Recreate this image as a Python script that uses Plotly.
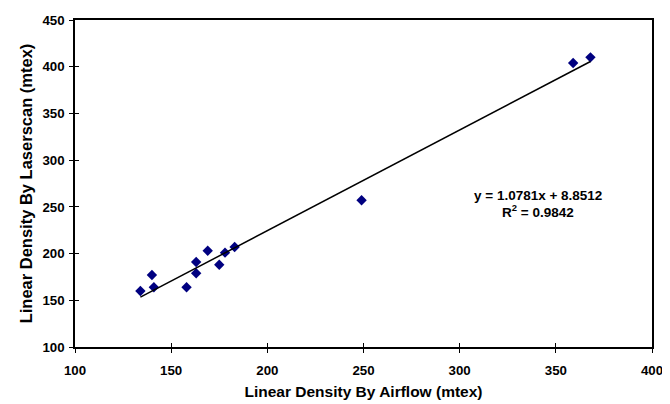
import plotly.graph_objects as go

airflow = [134, 140, 141, 158, 163, 163, 169, 175, 178, 183, 249, 359, 368]
laserscan = [160, 177, 164, 164, 191, 179, 203, 188, 201, 207, 257, 404, 410]
slope = 1.0781
intercept = 8.8512
r2 = 0.9842
x_ticks = [100, 150, 200, 250, 300, 350, 400]
y_ticks = [100, 150, 200, 250, 300, 350, 400, 450]

FONT = "Liberation Sans, Arial, sans-serif"

trend_x = [min(airflow), max(airflow)]
trend_y = [slope * v + intercept for v in trend_x]

fig = go.Figure()
fig.add_trace(go.Scatter(
    x=airflow, y=laserscan, mode="markers",
    marker=dict(symbol="diamond", size=8, color="#000080", line=dict(width=0)),
    showlegend=False, hoverinfo="x+y"))
fig.add_trace(go.Scatter(
    x=trend_x, y=trend_y, mode="lines",
    line=dict(color="black", width=1.5), showlegend=False, hoverinfo="skip"))
# invisible trace hosting overlay axes that give the ticks their inner half
fig.add_trace(go.Scatter(x=[None], y=[None], xaxis="x2", yaxis="y2",
                         showlegend=False, hoverinfo="skip"))

axis_common = dict(
    showgrid=False, zeroline=False, showline=True, linecolor="black", linewidth=1.5,
    mirror=True, ticks="outside", ticklen=4, tickwidth=1, tickcolor="black",
    automargin=False,
    tickfont=dict(family=FONT, size=13.3, color="black", weight="bold"),
)

fig.update_layout(
    template="none",
    width=670, height=404,
    margin=dict(l=67, r=26, t=12, b=65),
    paper_bgcolor="white", plot_bgcolor="white",
    font=dict(family=FONT, color="black"),
    xaxis=dict(range=[100, 400], tickvals=x_ticks,
               title=dict(text="Linear Density By Airflow (mtex)",
                          font=dict(family=FONT, size=15.5, color="black", weight="bold"),
                          standoff=9),
               ticklabelstandoff=6, **axis_common),
    yaxis=dict(range=[100, 450], tickvals=y_ticks,
               title=dict(text="Linear Density By Laserscan (mtex)",
                          font=dict(family=FONT, size=16.5, color="black", weight="bold"),
                          standoff=6),
               ticklabelstandoff=2, **axis_common),
    xaxis2=dict(overlaying="x", anchor="y", range=[100, 400], tickvals=x_ticks,
                showticklabels=False, showgrid=False, zeroline=False, showline=False,
                ticks="inside", ticklen=4, tickwidth=1, tickcolor="black", automargin=False),
    yaxis2=dict(overlaying="y", anchor="x", range=[100, 450], tickvals=y_ticks,
                showticklabels=False, showgrid=False, zeroline=False, showline=False,
                ticks="inside", ticklen=4, tickwidth=1, tickcolor="black", automargin=False),
)

fig.add_annotation(x=340.5, y=262.5, xref="x", yref="y",
                   text=f"y = {slope}x + {intercept}", showarrow=False,
                   font=dict(family=FONT, size=13.5, color="black", weight="bold"))
fig.add_annotation(x=340.5, y=245.5, xref="x", yref="y",
                   text=f"R<sup>2</sup> = {r2}", showarrow=False,
                   font=dict(family=FONT, size=13.5, color="black", weight="bold"))

fig.write_html("out.html")
